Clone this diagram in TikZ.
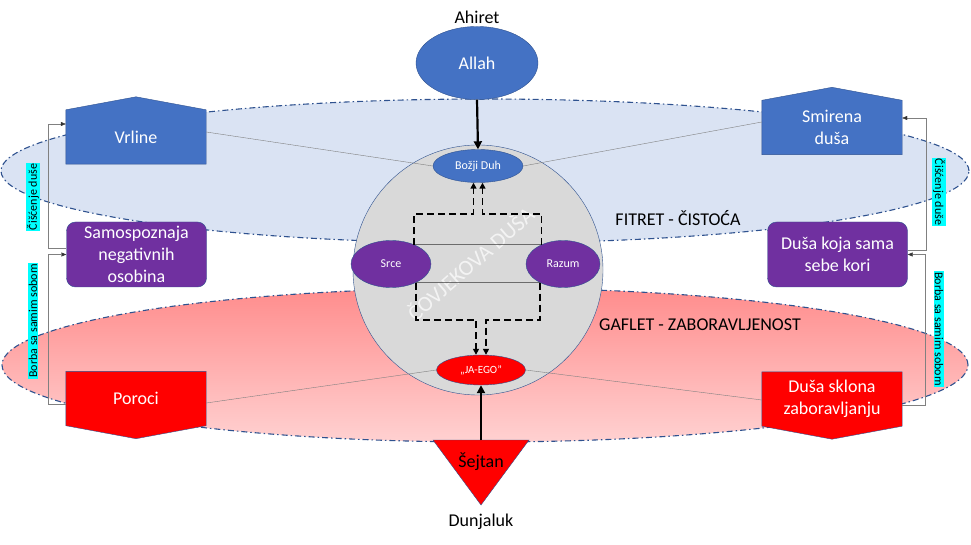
\documentclass[tikz,border=0pt]{standalone}
\usepackage{fontspec}
\setmainfont{Carlito}
\usetikzlibrary{positioning}
\usetikzlibrary{calc}
\usetikzlibrary{shapes.geometric}
\usetikzlibrary{arrows.meta}
\definecolor{shape blue}{HTML}{4472C4}
\definecolor{edge blue}{HTML}{2F528F}
\definecolor{soul purple}{HTML}{7030A0}
\definecolor{fitret colour}{HTML}{DAE3F3}
\definecolor{soul grey}{HTML}{D9D9D9}
\definecolor{tag colour}{HTML}{00FFFF}
\colorlet{link colour}{black!50}
\pgfdeclarelayer{background}
\pgfdeclarelayer{shapes}
\pgfsetlayers{background,shapes,main}
\tikzset{
    % Text sizes
    big text/.style={font=\fontsize{18}{22}\selectfont},
    small text/.style={font=\fontsize{12}{14}\selectfont},
%
    % The two big zones
    zone/.style={
        draw=edge blue, line width=1.1pt,
        dash pattern=on 6pt off 3pt on 1.5pt off 3pt},
%
    % Nodes
    oval/.style={ellipse, draw=edge blue, thin, inner sep=0},
    house body/.style={
        rectangle, inner sep=0, align=center, text=white, big text,
        minimum width=140pt, minimum height=54pt},
    rounded box/.style={
        rectangle, rounded corners=9pt, draw=edge blue, thin,
        fill=soul purple, text=white, big text, align=center,
        minimum width=140pt, minimum height=65pt},
    tag/.style={fill=tag colour, small text, inner sep=1pt},
%
    % Lines
    heavy/.style={line width=2.2pt, -{Triangle[length=8pt, width=8pt]}},
    flow/.style={
        line width=1.8pt, dash pattern=on 7pt off 4pt,
        -{Triangle[length=6pt, width=6pt]}},
    link/.style={draw=link colour, thin},
    side/.style={
        draw=link colour, thin,
        -{Triangle[length=5pt, width=4pt, color=black!80]}},
}

\begin{document}
\begin{tikzpicture}[x=1pt, y=1pt]
    \useasboundingbox (0,0) rectangle (971,544);

    % Zones
    \begin{pgfonlayer}{background}
        \path [zone, fill=fitret colour] (485,373) ellipse [x radius=484, y radius=72];
        \path [zone, top color=red!45, bottom color=red!18]
            (485,179) ellipse [x radius=483, y radius=77];
    \end{pgfonlayer}

    \node [big text] (Fitret) at (678,326) {FITRET - ČISTOĆA};
    \node [big text] (Gaflet) at (700,219) {GAFLET - ZABORAVLJENOST};

    % The soul
    \node [circle, draw=edge blue, fill=soul grey, minimum size=250pt, inner sep=0]
        (Dusa) at (478,274) {};
    \node [rotate=41, text=white, text opacity=0.7, font=\fontsize{22}{26}\selectfont]
        (Watermark) at (470,281) {ČOVJEKOVA DUŠA};

    \node [oval, fill=shape blue, text=white, big text,
        minimum width=122pt, minimum height=73pt] (Allah) at (477,481) {Allah};
    \node [big text] (Ahiret) at (477,527) {Ahiret};
    \node [oval, fill=shape blue, text=white, small text,
        minimum width=90pt, minimum height=33pt] (Bozji Duh) at (478,378) {Božji Duh};
    \node [oval, fill=soul purple, text=white, small text,
        minimum width=80pt, minimum height=47pt] (Srce) at (391,280) {Srce};
    \node [oval, fill=soul purple, text=white, small text,
        minimum width=74pt, minimum height=47pt] (Razum) at (563,280) {Razum};
    \node [oval, fill=red, text=white, font=\fontsize{11}{13}\selectfont,
        minimum width=89pt, minimum height=30pt] (JA EGO) at (481,174) {„JA-EGO”};

    % Satan
    \filldraw [fill=red, draw=edge blue, thin] (433,104) -- (529,104) -- (481,39) -- cycle;
    \coordinate (Sejtan top) at (481,104);
    \node [big text] (Sejtan) at (481,82) {Šejtan};
    \node [big text] (Dunjaluk) at (481,22) {Dunjaluk};

    % Side boxes
    \node [house body] (Vrline) at (136,407) {Vrline};
    \node [house body] (Smirena) at (832,416.5) {Smirena\\duša};
    \node [house body] (Poroci) at (136,145.5) {Poroci};
    \node [house body] (Sklona) at (832,145) {Duša sklona\\zaboravljanju};
    \node [rounded box] (Samospoznaja) at (136.5,289.5)
        {Samospoznaja\\negativnih\\osobina};
    \node [rounded box] (Kori) at (837.5,289.5) {Duša koja sama\\sebe kori};

    \begin{pgfonlayer}{shapes}
        \foreach \n in {Vrline, Smirena}
            \filldraw [fill=shape blue, draw=edge blue, thin]
                (\n.south west) -- (\n.north west) -- ([yshift=13pt]\n.north)
                -- (\n.north east) -- (\n.south east) -- cycle;
        \foreach \n in {Poroci, Sklona}
            \filldraw [fill=red, draw=edge blue, thin]
                (\n.north west) -- (\n.south west) -- ([yshift=-13pt]\n.south)
                -- (\n.south east) -- (\n.north east) -- cycle;
    \end{pgfonlayer}

    % Inside the soul
    \draw [heavy] (Allah.south) -- (Bozji Duh.north);
    \draw [heavy] (Sejtan top) -- (JA EGO.south);
    \draw [thin, black!80] (Srce.40) -- (Razum.138);
    \draw [thin, black!80] (Srce.-37) -- (Razum.-141);
    \draw [flow] (Srce.40) -- ++(0,31) -| ([xshift=-4.5pt]Bozji Duh.south);
    \draw [flow] (Razum.138) -- ++(0,31) -| ([xshift=4.5pt]Bozji Duh.south);
    \draw [flow] (Srce.-37) -- ++(0,-37) -| ([xshift=-5pt]JA EGO.north);
    \draw [flow] (Razum.-141) -- ++(0,-37) -| ([xshift=5pt]JA EGO.north);

    % Links to the side boxes
    \draw [link] ([yshift=5pt]Vrline.east) -- (Bozji Duh.west);
    \draw [link] ([yshift=5.5pt]Smirena.west) -- (Bozji Duh.east);
    \draw [link] ([yshift=-4.5pt]Poroci.east) -- (JA EGO.west);
    \draw [link] ([yshift=-1pt]Sklona.west) -- (JA EGO.east);

    \draw [side] ([yshift=-6pt]Poroci.west) -- ++(-18,0) |- (Samospoznaja.west);
    \draw [side] ([yshift=6pt]Samospoznaja.west) -- ++(-18,0) |- ([yshift=13pt]Vrline.west);
    \draw [side] ([yshift=-6pt]Sklona.east) -- ++(23,0) |- (Kori.east);
    \draw [side] ([yshift=4pt]Kori.east) -- ++(18,0) |- ([yshift=9.5pt]Smirena.east);

    \node [tag, rotate=90] (Cisc left) at (33,347) {Čišćenje duše};
    \node [tag, rotate=90] (Borba left) at (33,223) {Borba sa samim sobom};
    \node [tag, rotate=-90] (Cisc right) at (939,352) {Čišćenje duše};
    \node [tag, rotate=-90] (Borba right) at (939,215) {Borba sa samim sobom};
\end{tikzpicture}
\end{document}
